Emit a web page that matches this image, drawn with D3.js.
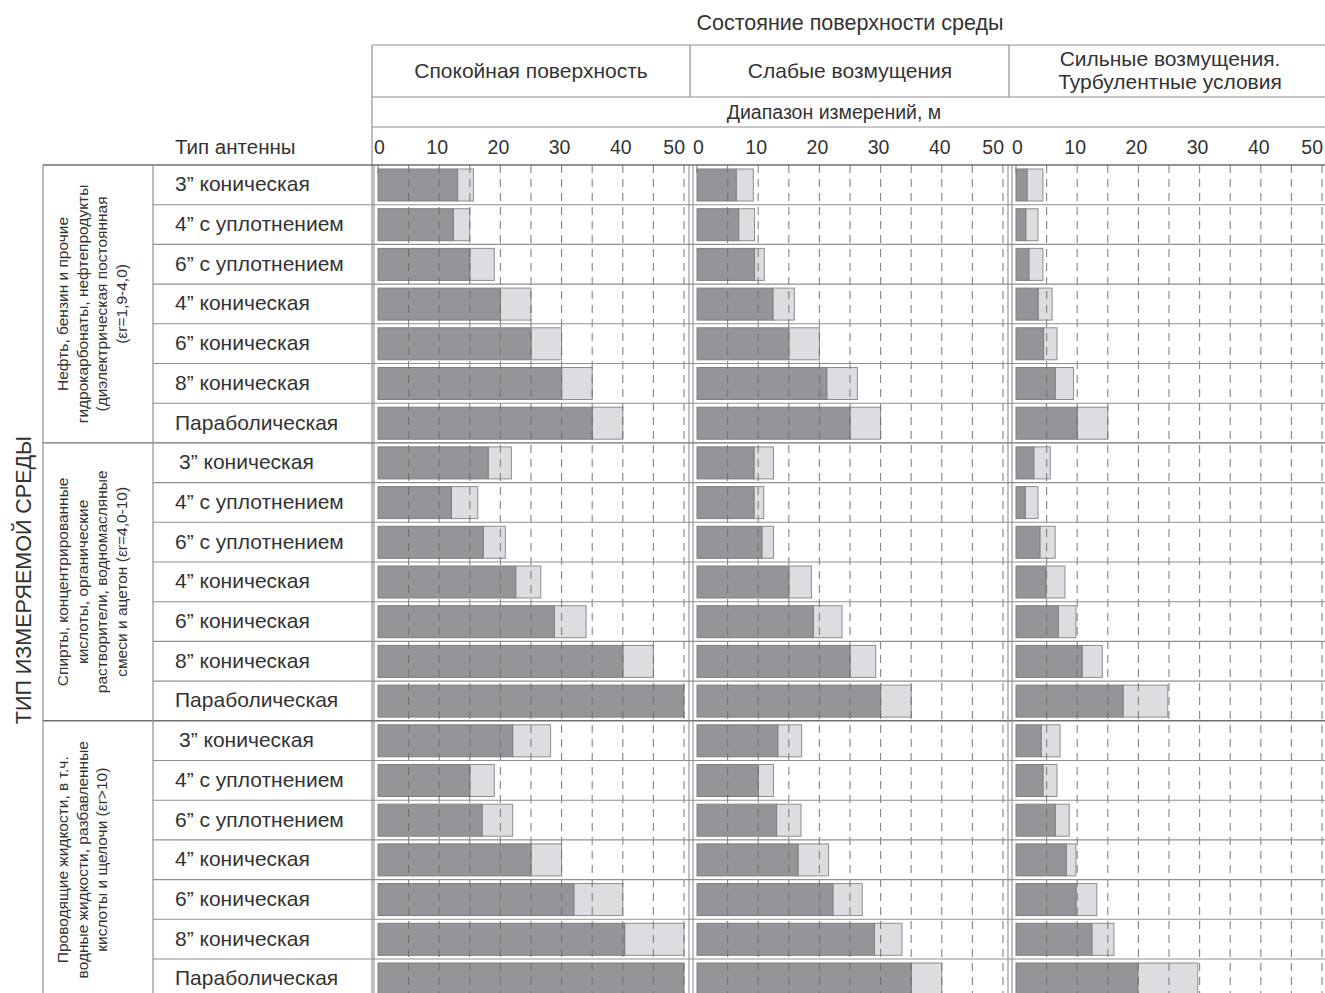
<!DOCTYPE html>
<html><head><meta charset="utf-8">
<script src="https://cdn.jsdelivr.net/npm/d3@7"></script>
<style>body{margin:0;background:#fff}svg{display:block}text{font-family:"Liberation Sans",Arial,sans-serif;fill:#333}</style>
</head><body><svg id="c" width="1325" height="993"></svg>
<script>
const title = "Состояние поверхности среды";
const rangeTitle = "Диапазон измерений, м";
const antennaTitle = "Тип антенны";
const mediumTitle = "ТИП ИЗМЕРЯЕМОЙ СРЕДЫ";
const conditions = [["Спокойная поверхность"],["Слабые возмущения"],["Сильные возмущения.","Турбулентные условия"]];
const groups = [
  ["Нефть, бензин и прочие","гидрокарбонаты, нефтепродукты","(диэлектрическая постоянная","(εr=1,9-4,0)"],
  ["Спирты, концентрированные","кислоты, органические","растворители, водномасляные","смеси и ацетон (εr=4,0-10)"],
  ["Проводящие жидкости, в т.ч.","водные жидкости, разбавленные","кислоты и щелочи (εr>10)"]
];
const antennas = ["3” коническая","4” с уплотнением","6” с уплотнением","4” коническая","6” коническая","8” коническая","Параболическая"];
const tickValues = [0,10,20,30,40,50];
const gridValues = [0,5,10,15,20,25,30,35,40,45,50];
// dark = guaranteed range, light = extended range (per group x antenna)
const calmDark    = [13,12.3,15,20,25,30,35, 18,12,17.2,22.5,28.8,40,50, 22,15,17,25,32,40.3,50];
const calmLight   = [15.6,15,19,25,30,35,40, 21.8,16.3,20.8,26.6,34,45,50, 28.2,19,22,30,40,50,50];
const weakDark    = [6.4,6.8,9.4,12.4,15,21.2,25, 9.3,9.3,10.6,15,19,25,30, 13.2,10,13,16.5,22.2,29,35];
const weakLight   = [9.2,9.4,11,15.9,20,26.2,30, 12.5,10.9,12.5,18.7,23.7,29.2,35, 17.1,12.5,17,21.5,27,33.5,40];
const strongDark  = [1.8,1.6,2.1,3.6,4.5,6.4,10, 2.9,1.5,3.9,4.9,6.9,10.8,17.5, 4.1,4.4,6.4,8.2,9.8,12.4,19.9];
const strongLight = [4.4,3.6,4.4,5.9,6.7,9.4,15, 5.6,3.6,6.4,8.0,9.8,14.1,24.8, 7.2,6.7,8.7,9.8,13.2,16.0,29.7];

const panels = [
  {dark: calmDark, light: calmLight},
  {dark: weakDark, light: weakLight},
  {dark: strongDark, light: strongLight}
];

const svg = d3.select("#c");
const W = 1325;
const panelLeft = [372, 691, 1010];
const tableTop = 165, rowH = 39.7;
const colG = 43, colA = 153;
const lineC = "#8f8f8f";
const nRows = groups.length * antennas.length;
const rowsY = d3.scaleLinear().domain([0, nRows]).range([tableTop, tableTop + nRows*rowH]);
const bottom = 993;

// Title
svg.append("text").attr("x", 850).attr("y", 30).attr("text-anchor","middle").attr("font-size",21.5).text(title);

const hl = (x1,y1,x2,y2,c=lineC,w=1.2)=>svg.append("line").attr("x1",x1).attr("y1",y1).attr("x2",x2).attr("y2",y2).attr("stroke",c).attr("stroke-width",w);
hl(372,45,W,45);
hl(372,97,W,97);
hl(372,127,W,127);
panelLeft.forEach((L,i)=>{ if(i>0) hl(L-1,45,L-1,97); });
hl(372,45,372,bottom);

conditions.forEach((lines,i)=>{
  const cx = panelLeft[i] + (i==2?160:159);
  const t = svg.append("text").attr("text-anchor","middle").attr("font-size",21);
  const y0 = lines.length==1 ? 78 : 66;
  lines.forEach((l,j)=>t.append("tspan").attr("x",cx).attr("y",y0+j*23).text(l));
});
svg.append("text").attr("x",834).attr("y",119).attr("text-anchor","middle").attr("font-size",19.5).text(rangeTitle);
svg.append("text").attr("x",175).attr("y",154).attr("font-size",20.5).text(antennaTitle);

const xs = panelLeft.map(L => d3.scaleLinear().domain([0,50]).range([L+6, L+6+306]));

xs.forEach((x,i)=>{
  svg.append("g").selectAll("text").data(tickValues).join("text")
    .attr("x", d => d===0 ? x(d)-4 : d===50 ? x(d)+1 : x(d)-2)
    .attr("y",154).attr("font-size",19.5)
    .attr("text-anchor", d => d===0 ? "start" : d===50 ? "end" : "middle")
    .text(d=>d);
});

xs.forEach((x,pi)=>{
  const p = panels[pi];
  const g = svg.append("g");
  const idx = d3.range(nRows);
  g.selectAll("rect.l").data(idx).join("rect")
    .attr("x", i=>x(p.dark[i])).attr("y", i=>rowsY(i)+4)
    .attr("width", i=>Math.max(0, x(p.light[i])-x(p.dark[i]))).attr("height", 32)
    .attr("fill","#dcdde0").attr("stroke","#8e8e90").attr("stroke-width",1);
  g.selectAll("rect.d").data(idx).join("rect")
    .attr("x", x(0)).attr("y", i=>rowsY(i)+4)
    .attr("width", i=>x(p.dark[i])-x(0)).attr("height", 32)
    .attr("fill","#939598").attr("stroke","#7d7e80").attr("stroke-width",1);
  g.selectAll("line.g").data(gridValues.filter(v=>v>0)).join("line")
    .attr("x1", d=>x(d)).attr("x2", d=>x(d)).attr("y1", tableTop).attr("y2", bottom)
    .attr("stroke","#6f6f6f").attr("stroke-width",1.1).attr("stroke-dasharray","8,6").attr("opacity",0.85);
  svg.append("line").attr("x1",x(0)).attr("x2",x(0)).attr("y1",tableTop).attr("y2",tableTop+8).attr("stroke","#6f6f6f");
});

d3.range(nRows+1).forEach(i=>{
  const y = rowsY(i);
  const isGroup = i % antennas.length === 0;
  hl(isGroup?colG:colA, y, W, y, isGroup?"#6e6e6e":lineC, isGroup?1.4:1.1);
});
hl(colG, tableTop, colG, bottom, lineC, 1.2);
hl(colA, tableTop, colA, bottom, lineC, 1.2);
panelLeft.forEach((L,i)=>{ hl(L+2, tableTop, L+2, bottom, lineC, 1.1); if(i>0) hl(L-2, tableTop, L-2, bottom, lineC, 1.1); });

svg.append("g").selectAll("text").data(d3.range(nRows)).join("text")
  .attr("x", i => (i%7===0 && i>0) ? 179 : 175)
  .attr("y", i => rowsY(i) + rowH/2 + 6.5)
  .attr("font-size",21)
  .text(i => antennas[i % antennas.length]);

groups.forEach((lines,gi)=>{
  const cy = (rowsY(gi*7) + rowsY(gi*7+7))/2;
  lines.forEach((l,j)=>{
    const x = 68 + j*19.5;
    svg.append("text").attr("transform",`translate(${x},${cy}) rotate(-90)`)
      .attr("text-anchor","middle").attr("font-size",15.5).text(l);
  });
});

svg.append("text").attr("transform",`translate(31,580) rotate(-90)`).attr("text-anchor","middle").attr("font-size",21.5).text(mediumTitle);
</script></body></html>
